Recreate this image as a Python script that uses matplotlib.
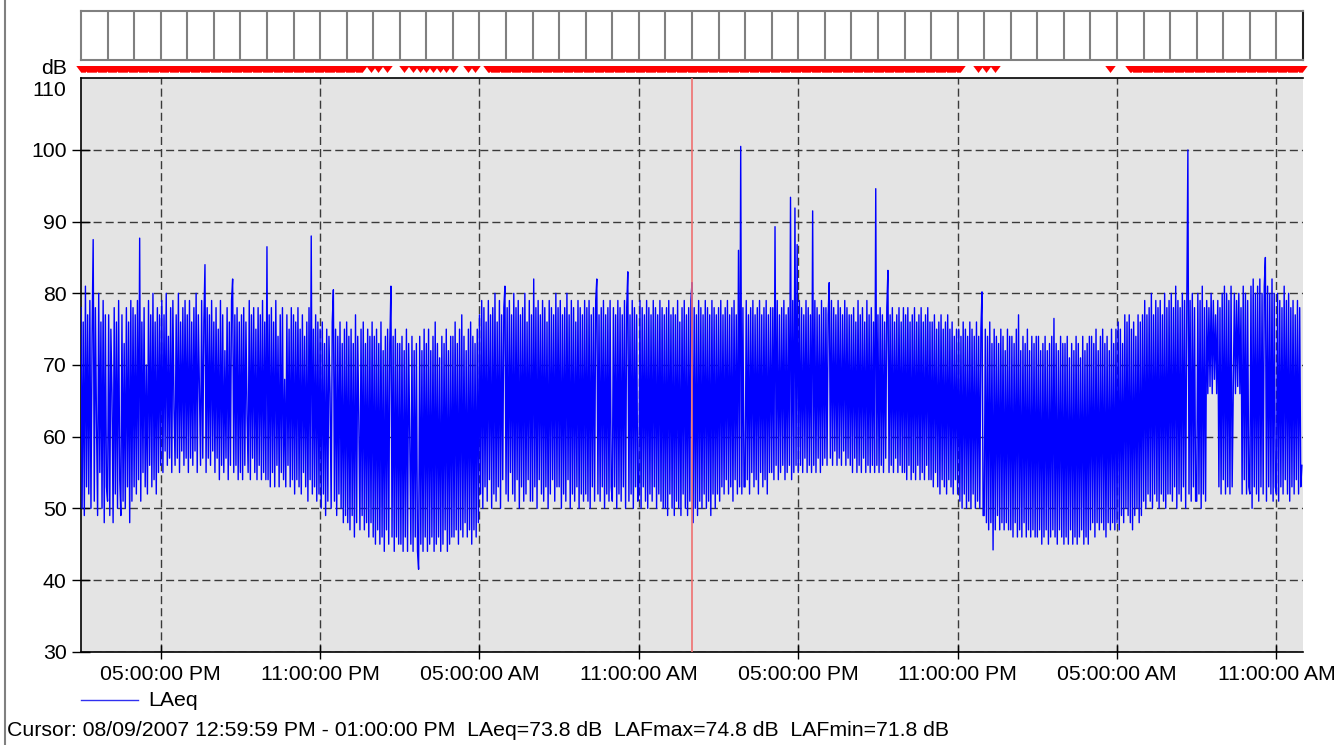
import numpy as np
import pandas as pd
import matplotlib
matplotlib.use("Agg")
import matplotlib.pyplot as plt
import matplotlib.dates as mdates
from matplotlib.lines import Line2D
from matplotlib.transforms import blended_transform_factory

plt.rcParams['font.family'] = ['Liberation Sans', 'DejaVu Sans']

# ---------------- data (LAeq, 2.5-minute values, one row per hour) ----------------
start_time = "2007-08-08 14:00"
end_time = "2007-08-10 12:00"
cursor_time = "2007-08-09 13:00"
sample_step = "150s"

# 08/08/2007 14:00 - 24:00
day1_laeq = [
    78, 50, 76, 49, 81, 53, 77, 52, 79, 50, 74, 87.5, 51, 78, 62, 49, 80, 55, 76, 50, 79, 48, 77, 53,
    51, 77, 49, 75, 66, 48, 78, 52, 76, 50, 79, 54, 49, 77, 51, 73, 50, 78, 53, 76, 48, 79, 51, 78,
    53, 77, 52, 79, 54, 87.7, 51, 76, 55, 78, 53, 70, 52, 79, 56, 77, 53, 80, 54, 76, 52, 78, 55, 77,
    56, 79, 55, 77, 58, 80, 56, 74, 57, 78, 55, 79, 64, 56, 77, 57, 80, 55, 76, 58, 78, 56, 79, 57,
    77, 55, 79, 57, 76, 56, 78, 58, 80, 55, 77, 66, 56, 79, 57, 76, 84, 55, 78, 57, 77, 56, 79, 58,
    76, 55, 78, 57, 75, 54, 79, 56, 77, 55, 72, 57, 78, 54, 76, 56, 79, 82, 55, 77, 56, 78, 54, 76,
    55, 77, 54, 78, 56, 76, 63, 55, 79, 54, 77, 57, 78, 55, 75, 54, 78, 56, 77, 54, 79, 55, 76, 54,
    86.5, 54, 77, 53, 78, 55, 76, 53, 79, 56, 74, 53, 77, 55, 78, 54, 68, 53, 77, 56, 75, 53, 78, 54,
    77, 52, 76, 54, 78, 53, 75, 52, 77, 55, 74, 53, 76, 51, 78, 54, 88, 52, 75, 53, 77, 51, 76, 52,
    75, 50, 76, 52, 73, 49, 75, 51, 74, 66, 50, 76, 80.5, 51, 75, 49, 74, 52, 76, 50, 73, 48, 75, 49,
]
# 08/09/2007 00:00 - 24:00
day2_laeq = [
    76, 48, 74, 47, 75, 49, 73, 46, 77, 48, 74, 62, 47, 75, 49, 76, 47, 73, 48, 75, 46, 74, 48, 76,
    46, 74, 45, 75, 47, 73, 45, 76, 46, 72, 44, 74, 47, 75, 45, 73, 81, 46, 74, 44, 75, 46, 73, 45,
    73, 45, 74, 44, 72, 46, 75, 44, 73, 60, 45, 74, 44, 72, 46, 73, 44, 41.5, 74, 45, 72, 44, 75, 46,
    73, 44, 75, 45, 72, 46, 74, 44, 76, 45, 73, 46, 71, 44, 74, 45, 73, 47, 75, 44, 72, 45, 74, 46,
    74, 46, 76, 47, 73, 45, 75, 47, 77, 46, 74, 48, 72, 46, 75, 47, 76, 45, 74, 47, 73, 46, 75, 48,
    77, 52, 79, 50, 78, 53, 76, 51, 79, 54, 77, 50, 78, 52, 80, 51, 76, 53, 79, 50, 77, 54, 78, 81,
    52, 78, 51, 79, 55, 77, 52, 80, 51, 78, 54, 79, 50, 77, 53, 78, 51, 80, 52, 76, 54, 79, 51, 77,
    51, 82, 53, 78, 50, 79, 54, 77, 52, 79, 51, 78, 53, 76, 50, 79, 52, 78, 54, 77, 51, 80, 53, 78,
    53, 79, 50, 77, 52, 78, 51, 80, 54, 77, 50, 79, 52, 78, 51, 76, 53, 79, 50, 78, 52, 77, 51, 79,
    52, 78, 51, 79, 50, 77, 53, 78, 51, 79, 82, 52, 77, 51, 78, 53, 79, 50, 77, 52, 78, 51, 79, 53,
    51, 78, 53, 77, 50, 79, 52, 78, 51, 77, 53, 79, 50, 78, 83, 51, 77, 52, 79, 50, 78, 53, 77, 51,
    52, 79, 50, 78, 53, 77, 51, 79, 50, 78, 52, 77, 51, 79, 53, 78, 50, 77, 52, 79, 51, 78, 50, 77,
    50, 78, 49, 79, 52, 77, 50, 78, 49, 77, 51, 79, 50, 76, 49, 78, 52, 79, 50, 77, 49, 78, 51, 79,
    81.5, 48, 78, 50, 77, 49, 79, 51, 78, 50, 77, 52, 79, 50, 78, 51, 77, 49, 79, 52, 78, 50, 77, 52,
    78, 51, 79, 53, 77, 52, 78, 54, 79, 52, 77, 53, 78, 51, 79, 54, 77, 52, 86, 53, 100.5, 52, 78, 53,
    53, 79, 54, 77, 52, 78, 55, 79, 53, 77, 54, 78, 52, 79, 55, 77, 53, 78, 54, 79, 52, 77, 55, 78,
    55, 78, 54, 89.3, 56, 79, 54, 77, 55, 78, 56, 79, 54, 77, 55, 78, 56, 93.4, 54, 79, 55, 91.9, 56, 86.8,
    55, 79, 56, 78, 55, 77, 57, 79, 55, 78, 56, 77, 55, 91.5, 56, 79, 55, 78, 57, 77, 55, 79, 56, 78,
    57, 78, 56, 77, 81.5, 57, 79, 56, 78, 58, 77, 56, 79, 57, 78, 56, 77, 58, 79, 56, 78, 57, 77, 56,
    77, 55, 78, 57, 76, 55, 79, 56, 77, 55, 78, 57, 76, 55, 79, 56, 77, 55, 78, 56, 76, 55, 94.6, 56,
    77, 55, 78, 56, 77, 55, 76, 57, 78, 83.2, 55, 77, 56, 78, 55, 76, 57, 77, 55, 78, 56, 76, 55, 78,
    55, 77, 54, 78, 56, 76, 54, 77, 55, 78, 54, 76, 56, 77, 54, 78, 55, 76, 54, 77, 56, 78, 54, 76,
    54, 76, 53, 77, 55, 75, 53, 76, 52, 77, 54, 75, 53, 76, 52, 77, 54, 75, 53, 76, 52, 74, 54, 75,
    52, 75, 51, 74, 50, 76, 52, 75, 50, 74, 51, 76, 50, 75, 52, 74, 50, 76, 51, 74, 50, 75, 80.2, 49,
]
# 08/10/2007 00:00 - 12:00
day3_laeq = [
    49, 75, 48, 74, 47, 76, 48, 73, 44.2, 75, 47, 74, 49, 73, 47, 75, 48, 74, 47, 72, 48, 75, 47, 74,
    47, 74, 46, 73, 48, 75, 46, 77, 47, 72, 46, 74, 48, 73, 46, 75, 47, 72, 46, 74, 47, 73, 46, 74,
    46, 74, 47, 72, 45, 73, 46, 74, 47, 72, 45, 73, 46, 74, 47, 76.5, 46, 73, 45, 72, 47, 74, 46, 73,
    45, 73, 46, 74, 45, 71, 47, 73, 45, 72, 46, 74, 45, 73, 46, 71, 47, 74, 45, 72, 46, 73, 45, 74,
    47, 74, 48, 73, 46, 75, 48, 72, 47, 74, 48, 75, 47, 73, 46, 74, 48, 72, 47, 75, 48, 73, 47, 75,
    48, 76, 47, 75, 49, 73, 48, 77, 50, 76, 49, 77, 48, 75, 47, 76, 49, 74, 50, 77, 48, 76, 49, 77,
    51, 79, 50, 77, 52, 78, 51, 80, 50, 77, 52, 79, 51, 78, 50, 79, 52, 77, 51, 80, 50, 78, 52, 79,
    52, 80, 51, 78, 53, 81, 50, 79, 52, 78, 51, 80, 53, 79, 50, 78, 100, 52, 79, 51, 80, 53, 78, 51,
    51, 80, 52, 79, 50, 81, 52, 78, 51, 79, 66, 78, 67, 80, 66, 79, 68, 77, 66, 79, 53, 78, 52, 80,
    54, 81, 52, 80, 53, 79, 52, 81, 53, 67, 80, 66, 79, 67, 80, 66, 78, 52, 81, 54, 80, 52, 79, 53,
    52, 81, 50, 82, 53, 80, 52, 81, 51, 82, 53, 80, 52, 81, 85, 51, 81, 53, 80, 52, 82, 51, 80, 53,
    52, 80, 51, 79, 53, 78, 52, 81, 54, 79, 52, 80, 51, 78, 53, 79, 52, 77, 54, 79, 52, 78, 53, 56,
]

# periods flagged by the red markers above the graph
flag_ranges = [
    ("2007-08-08 14:00", "2007-08-09 00:35"),
    ("2007-08-09 05:20", "2007-08-09 23:05"),
    ("2007-08-10 05:30", "2007-08-10 12:00"),
]
flag_points = [
    "2007-08-09 00:55", "2007-08-09 01:10", "2007-08-09 01:30",
    "2007-08-09 02:10", "2007-08-09 02:30", "2007-08-09 02:45",
    "2007-08-09 03:00", "2007-08-09 03:15", "2007-08-09 03:30",
    "2007-08-09 03:45", "2007-08-09 04:00", "2007-08-09 04:35",
    "2007-08-09 04:50", "2007-08-09 23:45", "2007-08-10 00:05",
    "2007-08-10 00:25", "2007-08-10 04:45",
]

y_ticks = [30, 40, 50, 60, 70, 80, 90, 100]
top_label = "110"
series_name = "LAeq"
cursor_text = ("Cursor: 08/09/2007 12:59:59 PM - 01:00:00 PM  LAeq=73.8 dB  "
               "LAFmax=74.8 dB  LAFmin=71.8 dB")

# ---------------- build ----------------
laeq = np.array(day1_laeq + day2_laeq + day3_laeq, dtype=float)
t0 = pd.Timestamp(start_time)
t1 = pd.Timestamp(end_time)
times = pd.date_range(t0, periods=len(laeq), freq=sample_step)
tx = times.to_pydatetime()

mask = np.zeros(len(times), dtype=bool)
for a, b in flag_ranges:
    mask |= (times >= pd.Timestamp(a)) & (times <= pd.Timestamp(b))
for p in flag_points:
    mask |= (times == pd.Timestamp(p))

W, H = 1340, 745
fig = plt.figure(figsize=(W / 100, H / 100), dpi=100)
FS = 15.3

def fx(px):
    return px / W

def fy(py):
    return 1 - py / H

L, R, T, B = 81, 1303, 78.3, 651.7

# main axes
ax = fig.add_axes([fx(L), fy(B), (R - L) / W, (B - T) / H])
ax.set_facecolor('#E4E4E4')
ax.set_xlim(t0.to_pydatetime(), t1.to_pydatetime())
ax.set_ylim(30, 110)
ax.grid(True, linestyle=(0, (5.8, 2.9)), color='#3a3a3a', linewidth=1.0)
ax.set_axisbelow(True)
ax.plot(tx, laeq, color='#0000FF', linewidth=1.0, zorder=3)
ax.axvline(pd.Timestamp(cursor_time).to_pydatetime(), color='#F07070',
           linewidth=1.2, zorder=4)

ax.xaxis.set_major_locator(mdates.HourLocator(byhour=[5, 11, 17, 23]))
ax.xaxis.set_major_formatter(mdates.DateFormatter('%I:%M:%S %p'))
ax.set_yticks(y_ticks)
ax.tick_params(axis='x', direction='inout', length=9.5, width=1, pad=5,
               labelsize=FS, colors='black')
ax.tick_params(axis='y', direction='inout', length=13, width=1, pad=4,
               labelsize=FS)
for s in ['top', 'left', 'bottom']:
    ax.spines[s].set_color('black')
    ax.spines[s].set_linewidth(1.2)
ax.spines['right'].set_visible(False)
trans = blended_transform_factory(ax.transAxes, ax.transData)
ax.text(-15 / (R - L), 108.3, top_label, transform=trans, ha='right',
        va='center', fontsize=FS)

# hour boxes strip
sx = fig.add_axes([fx(L), fy(60), (R - L) / W, 49 / H])
sx.set_xlim(t0.to_pydatetime(), t1.to_pydatetime())
sx.set_ylim(0, 1)
hours = pd.date_range(t0, t1, freq='h').to_pydatetime()
sx.vlines(hours[1:-1], 0, 1, color='#808080', linewidth=1.5)
sx.set_xticks([])
sx.set_yticks([])
for s in sx.spines.values():
    s.set_color('#808080')
    s.set_linewidth(1.5)
sx.spines['right'].set_color('#202020')

# red flag markers
mx = fig.add_axes([fx(L), fy(75), (R - L) / W, 12 / H])
mx.set_xlim(t0.to_pydatetime(), t1.to_pydatetime())
mx.set_ylim(-1, 1)
mx.axis('off')
tri = [(-0.75, 0.5), (0.75, 0.5), (0, -0.5)]
mx.plot(tx[mask], np.zeros(mask.sum()), linestyle='none', marker=tri,
        markersize=7.5, color='#FF0000', markeredgewidth=0, clip_on=False)

# dB label
fig.text(fx(67), fy(69), 'dB', ha='right', va='center', fontsize=FS)

# legend
fig.add_artist(Line2D([fx(81), fx(138)], [fy(700), fy(700)],
                      transform=fig.transFigure, color='#3030F0', linewidth=1.0))
fig.text(fx(148), fy(700), series_name, ha='left', va='center', fontsize=FS)

# cursor text
fig.text(fx(7), fy(731), cursor_text, ha='left', va='center', fontsize=FS)

# left frame line
fig.add_artist(Line2D([fx(5), fx(5)], [0, 1], transform=fig.transFigure,
                      color='#808080', linewidth=1.5))

fig.savefig('out.png', dpi=100, facecolor='white')
